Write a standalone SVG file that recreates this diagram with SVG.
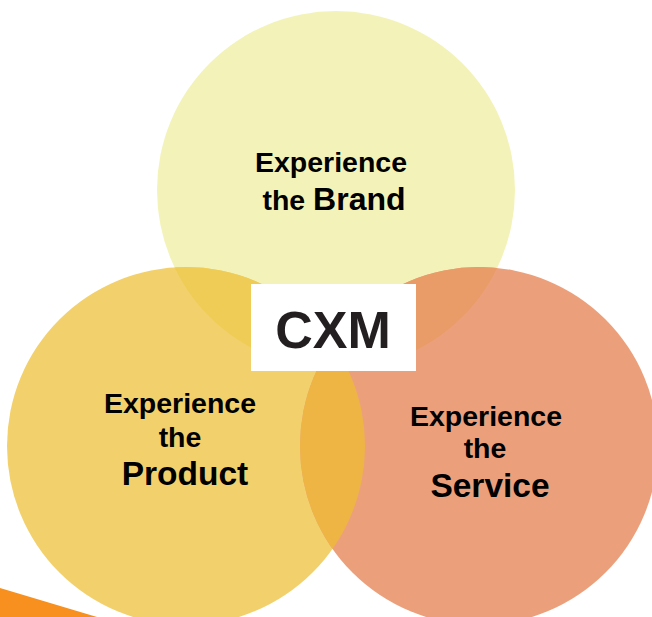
<svg xmlns="http://www.w3.org/2000/svg" width="652" height="617" viewBox="0 0 652 617">
  <style>
    .lbl { font-family: "Liberation Sans", Arial, sans-serif; font-weight: bold; fill: #000000; text-anchor: middle; }
    .cxm { font-family: "Liberation Sans", Arial, sans-serif; font-weight: bold; fill: #231F20; text-anchor: middle; font-size: 52px; }
  </style>
  <defs>
    <clipPath id="cTop"><circle cx="336" cy="190" r="179"/></clipPath>
    <clipPath id="cLeft"><circle cx="186" cy="446" r="179"/></clipPath>
  </defs>
  <rect width="652" height="617" fill="#ffffff"/>
  <polygon points="0,588 97,617 0,617" fill="#F7901E"/>
  <g id="brand">
    <circle cx="336" cy="190" r="179" fill="#F3F3B9"/>
  </g>
  <g id="product">
    <circle cx="186" cy="446" r="179" fill="#F2D06B"/>
  </g>
  <g id="service">
    <circle cx="479" cy="446" r="179" fill="#EBA07B"/>
  </g>
  <g id="overlaps">
    <circle cx="186" cy="446" r="179" fill="#EFCC55" clip-path="url(#cTop)"/>
    <circle cx="479" cy="446" r="179" fill="#E99B68" clip-path="url(#cTop)"/>
    <circle cx="479" cy="446" r="179" fill="#EEB544" clip-path="url(#cLeft)"/>
  </g>
  <g id="brand-label">
    <text class="lbl" x="331" y="172" font-size="28.5">Experience</text>
    <text class="lbl" y="210" x="334"><tspan font-size="28.5">the </tspan><tspan font-size="32">Brand</tspan></text>
  </g>
  <g id="product-label">
    <text class="lbl" x="180" y="413" font-size="28.5">Experience</text>
    <text class="lbl" x="180" y="447" font-size="28.5">the</text>
    <text class="lbl" x="185" y="485" font-size="33.5">Product</text>
  </g>
  <g id="service-label">
    <text class="lbl" x="486" y="426" font-size="28.5">Experience</text>
    <text class="lbl" x="485" y="458" font-size="28.5">the</text>
    <text class="lbl" x="490" y="497" font-size="33.5">Service</text>
  </g>
  <g id="cxm">
    <rect x="251" y="284" width="165" height="87" fill="#ffffff"/>
    <text class="cxm" x="333" y="348">CXM</text>
  </g>
</svg>
